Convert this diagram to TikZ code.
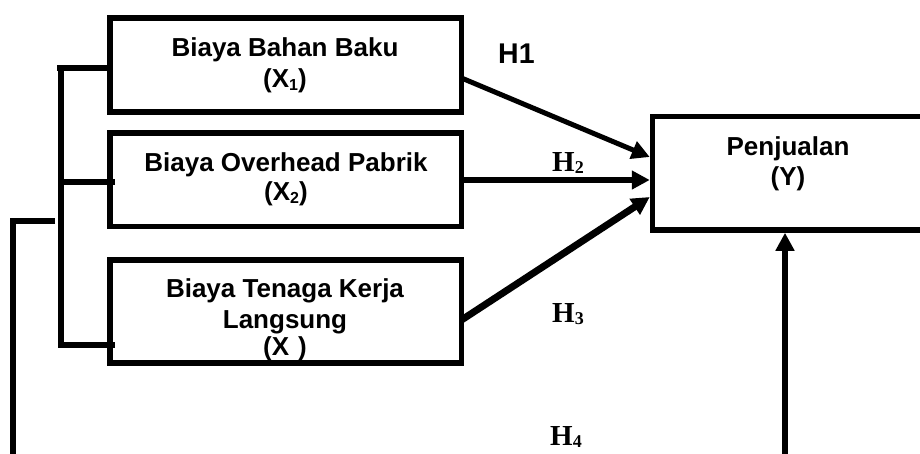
\documentclass[tikz,border=0pt]{standalone}
\usepackage{fontspec}
\setmainfont{Liberation Sans}
\newfontfamily\serifb{Liberation Serif}
\usetikzlibrary{arrows.meta,calc}
\tikzset{
  box/.style={draw, line width=5.5pt, rectangle, inner sep=0pt, outer sep=0pt},
  boxtxt/.style={inner sep=0pt, anchor=base, font=\fontsize{26}{30}\selectfont\bfseries},
  hlab/.style={inner sep=0pt, anchor=base west, font=\serifb\fontsize{29}{30}\selectfont\bfseries},
  ln/.style={line width=5.5pt},
  arr/.style={line width=#1, -{Triangle[length=18pt,width=18pt]}},
  arr/.default=5pt
}
\newcommand{\subd}[1]{\raisebox{-3pt}{\fontsize{16}{16}\selectfont #1}}
\newcommand{\hsub}[1]{\raisebox{-2pt}{\fontsize{18}{18}\selectfont #1}}
\begin{document}
\begin{tikzpicture}[x=1pt,y=-1pt]
\useasboundingbox (0,0) rectangle (920,453);
\clip (0,0) rectangle (920,453);
% texts
\node[boxtxt] (t1a) at (285,56) {Biaya Bahan Baku};
\node[boxtxt] (t1b) at (285,87) {(X\subd{1})};
\node[boxtxt] (t2a) at (286,171) {Biaya Overhead Pabrik};
\node[boxtxt] (t2b) at (286,200) {(X\subd{2})};
\node[boxtxt] (t3a) at (285,297) {Biaya Tenaga Kerja};
\node[boxtxt] (t3b) at (285,328) {Langsung};
\node[boxtxt] (t3c) at (285,355) {(X\hspace{9pt})};
\node[boxtxt] (tya) at (788,155) {Penjualan};
\node[boxtxt] (tyb) at (788,185) {(Y)};
% boxes
\node[box, minimum width=351.5pt, minimum height=94pt] (b1) at (285.75,65) {};
\node[box, minimum width=351.5pt, minimum height=93.5pt] (b2) at (285.75,179.75) {};
\node[box, minimum width=351.5pt, minimum height=103pt] (b3) at (285.75,311.5) {};
\node[box, minimum width=307.5pt, minimum height=113.5pt] (Y) at (806.25,173.25) {};
% labels
\node[inner sep=0pt, anchor=base west, font=\fontsize{28.5}{30}\selectfont\bfseries] (h1) at (498,63) {H1};
\node[hlab] (h2) at (552,171) {H\hsub{2}};
\node[hlab] (h3) at (552,322) {H\hsub{3}};
\node[hlab] (h4) at (550,445) {H\hsub{4}};
% bracket
\coordinate (brt) at (57,68);
\coordinate (brv1) at (61,65.5);
\coordinate (brv2) at (61,347.5);
\draw[ln] (brt) -- (b1.west |- brt);
\draw[ln] (brv1) -- (brv2);
\draw[ln] (61,182) -- ([xshift=5pt]b2.west |- 0,182);
\draw[ln] (61,345) -- ([xshift=5pt]b3.west |- 0,345);
% outer line
\coordinate (ol1) at (55,221);
\coordinate (ol2) at (13,221);
\coordinate (ol3) at (13,460);
\draw[ln] (ol1) -- (10.25,221);
\draw[ln] (ol2) -- (ol3);
% arrows
\draw[arr=5pt] (b1.east |- 0,78) -- ([xshift=-2.75pt]Y.west |- 0,157);
\draw[arr=5.5pt] (b2.east |- 0,180) -- ([xshift=-2.75pt]Y.west |- 0,180);
\draw[arr=7pt] (b3.east |- 0,320) -- ([xshift=-2.75pt]Y.west |- 0,197);
\coordinate (vb) at (785,460);
\draw[arr=6pt] (vb) -- ([yshift=-2.75pt]Y.south -| vb);
\end{tikzpicture}
\end{document}
